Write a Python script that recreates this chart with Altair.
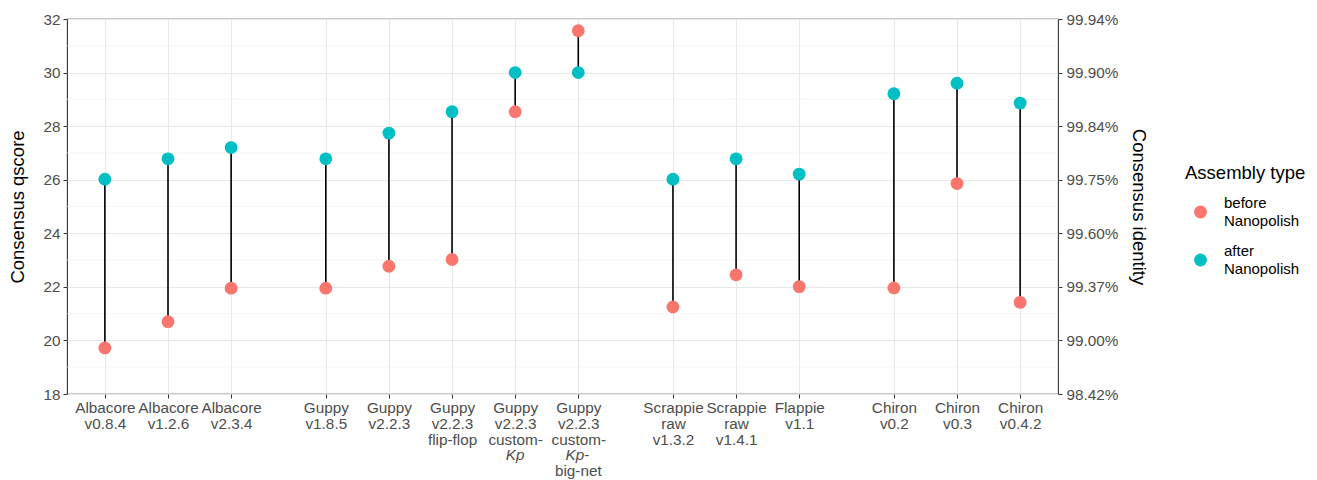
import json
import altair as alt
import pandas as pd

# ---- data ----
label_lines = [
    ["Albacore", "v0.8.4"], ["Albacore", "v1.2.6"], ["Albacore", "v2.3.4"],
    ["Guppy", "v1.8.5"], ["Guppy", "v2.2.3"], ["Guppy", "v2.2.3", "flip-flop"],
    ["Guppy", "v2.2.3", "custom-"], ["Guppy", "v2.2.3", "custom-"],
    ["Scrappie", "raw", "v1.3.2"], ["Scrappie", "raw", "v1.4.1"], ["Flappie", "v1.1"],
    ["Chiron", "v0.2"], ["Chiron", "v0.3"], ["Chiron", "v0.4.2"],
]
positions = [1, 2, 3, 4.5, 5.5, 6.5, 7.5, 8.5, 10, 11, 12, 13.5, 14.5, 15.5]
before = [19.72, 20.70, 21.95, 21.95, 22.77, 23.02, 28.54, 31.56, 21.25, 22.45, 22.01, 21.96, 25.86, 21.42]
after = [26.02, 26.78, 27.20, 26.78, 27.74, 28.54, 30.00, 30.00, 26.02, 26.78, 26.21, 29.21, 29.60, 28.86]
types = ["before Nanopolish", "after Nanopolish"]
type_colors = ["#F8766D", "#00BFC4"]
major_q = [18, 20, 22, 24, 26, 28, 30, 32]
minor_q = [19, 21, 23, 25, 27, 29, 31]
# label pieces below line 3 (italic "Kp" needs its own text marks)
kp_center_pos = [7.5]
kp_hyphen_pos = [8.5]
bignet_pos = [8.5]

wide = pd.DataFrame({"pos": positions, "before": before, "after": after})
long = pd.DataFrame({
    "pos": positions + positions,
    "q": before + after,
    "type": [types[0]] * len(positions) + [types[1]] * len(positions),
})

FONT = "Liberation Sans"
TICK_FS = 15.3
TITLE_FS = 18.5
LEG_FS = 15
TXT = "#4D4D4D"
GRID = "#E8E8E8"
SHIFT = 9  # guide-label dy used to centre two-line legend labels on their symbols
LINE4_Y = 436
LINE5_Y = 452

xlabel_expr = " : ".join(
    f"datum.value == {p} ? {json.dumps(l)}" for p, l in zip(positions, label_lines)
) + " : ''"

xscale = alt.Scale(domain=[0.4, 16.1], nice=False, zero=False)
xaxis = alt.Axis(values=positions, labelExpr=xlabel_expr, title=None, grid=True,
                 gridColor=GRID, gridWidth=1.1, domain=False, tickColor="#333333",
                 tickSize=4, labelFontSize=TICK_FS, labelColor=TXT, labelLineHeight=16,
                 labelBaseline="top", labelPadding=2 + SHIFT, labelFont=FONT, labelAngle=0)
yscale = alt.Scale(domain=[18, 32], nice=False, zero=False)
yaxis = alt.Axis(values=major_q, title="Consensus qscore", grid=True, gridColor=GRID,
                 gridWidth=1.1, domain=False, tickColor="#333333", tickSize=4,
                 labelFontSize=TICK_FS, labelColor=TXT, labelPadding=3, labelFont=FONT,
                 labelOffset=SHIFT,
                 titleFontSize=TITLE_FS, titleFontWeight="normal", titleColor="black",
                 titleFont=FONT, titlePadding=15)
yaxis_right = alt.Axis(values=major_q, orient="right", title="Consensus identity",
                       labelExpr="format(100*(1-pow(10,-datum.value/10)),'.2f')+'%'",
                       grid=False, domain=False, tickColor="#333333", tickSize=4,
                       labelFontSize=TICK_FS, labelColor=TXT, labelPadding=4, labelFont=FONT,
                       labelOffset=SHIFT,
                       titleFontSize=TITLE_FS, titleFontWeight="normal", titleColor="black",
                       titleFont=FONT, titlePadding=11)

X = alt.X("pos:Q", scale=xscale, axis=xaxis)

minor = alt.Chart(pd.DataFrame({"q": minor_q})).mark_rule(
    color="#F0F0F0", strokeWidth=0.6
).encode(y=alt.Y("q:Q", scale=yscale, axis=yaxis))

segs = alt.Chart(wide).mark_rule(color="black", strokeWidth=1.6).encode(
    x=X, y=alt.Y("before:Q", scale=yscale, axis=yaxis), y2="after:Q"
)

points = alt.Chart(long).mark_circle(size=165, opacity=1).encode(
    x=X,
    y=alt.Y("q:Q", scale=yscale, axis=yaxis),
    color=alt.Color(
        "type:N",
        scale=alt.Scale(domain=types, range=type_colors),
        sort=types,
        legend=alt.Legend(
            title="Assembly type", orient="none", legendX=1118, legendY=145,
            titleFontSize=TITLE_FS, titleFontWeight="normal", titleColor="black", titleFont=FONT,
            labelFontSize=LEG_FS, labelColor="black", labelFont=FONT,
            labelExpr="split(datum.label, ' ')", symbolSize=165, symbolType="circle",
            symbolOffset=8, labelOffset=16, rowPadding=14, titlePadding=22,
            symbolStrokeWidth=0,
        ),
    ),
)

txt_kw = dict(font=FONT, fontSize=TICK_FS, color=TXT, baseline="middle")

kp = alt.Chart(pd.DataFrame({"pos": kp_center_pos, "t": ["Kp"]})).mark_text(
    fontStyle="italic", align="center", **txt_kw
).encode(x=X, y=alt.value(LINE4_Y), text="t:N")

kp2 = alt.Chart(pd.DataFrame({"pos": kp_hyphen_pos, "t": ["Kp"]})).mark_text(
    fontStyle="italic", align="right", dx=6, **txt_kw
).encode(x=X, y=alt.value(LINE4_Y), text="t:N")

hyph = alt.Chart(pd.DataFrame({"pos": kp_hyphen_pos, "t": ["-"]})).mark_text(
    align="left", dx=6, **txt_kw
).encode(x=X, y=alt.value(LINE4_Y), text="t:N")

bignet = alt.Chart(pd.DataFrame({"pos": bignet_pos, "t": ["big-net"]})).mark_text(
    align="center", **txt_kw
).encode(x=X, y=alt.value(LINE5_Y), text="t:N")

right = alt.Chart(wide).mark_rule(strokeOpacity=0).encode(
    y=alt.Y("after:Q", scale=yscale, axis=yaxis_right)
)

inner = alt.layer(minor, segs, points, kp, kp2, hyph, bignet)
chart = alt.layer(inner, right).resolve_scale(y="independent").properties(
    width=991, height=375,
    autosize=alt.AutoSizeParams(type="none"),
    padding={"left": 67, "top": 19, "right": 259, "bottom": 86},
).configure(font=FONT, style={"guide-label": {"lineHeight": 18, "dy": -SHIFT}}).configure_view(
    stroke="#333333", strokeWidth=1.1
)

chart.save("out.html", embed_options={"renderer": "svg", "actions": False})
